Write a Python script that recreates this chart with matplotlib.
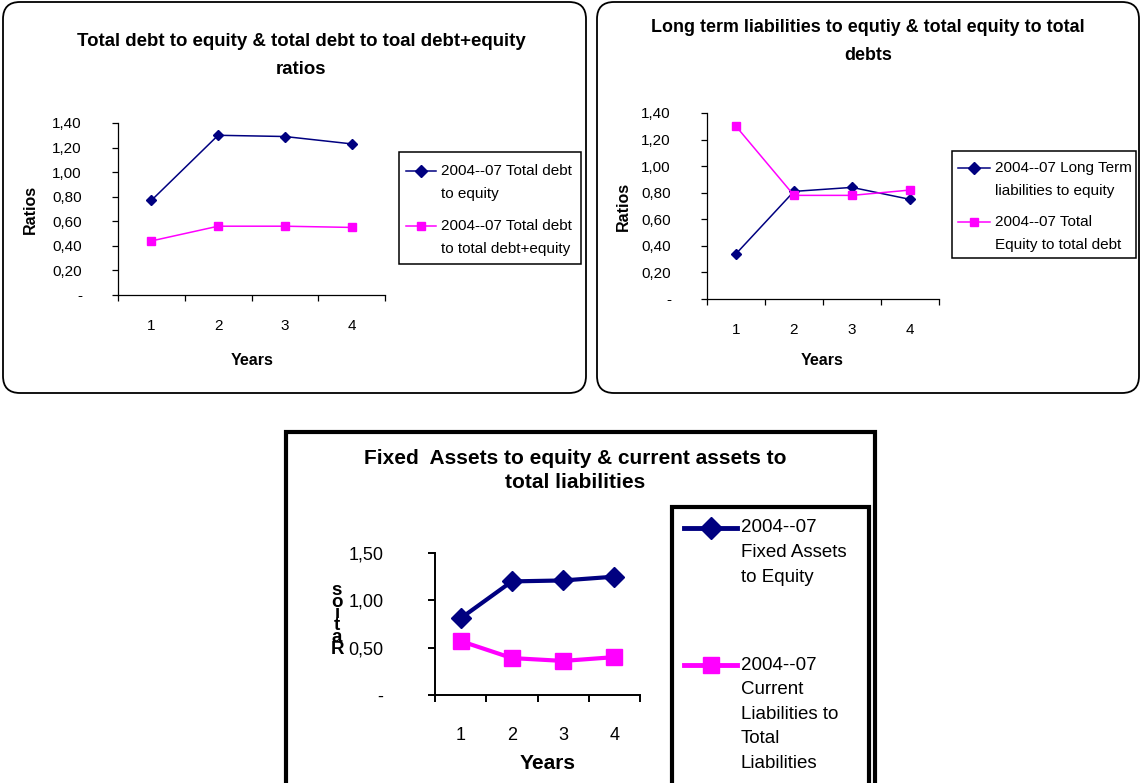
import numpy as np
import matplotlib.pyplot as plt
from matplotlib.patches import FancyBboxPatch, Rectangle
from matplotlib.lines import Line2D

# ratio series, 2004-07
years = [1, 2, 3, 4]
debt_to_equity = [0.77, 1.30, 1.29, 1.23]
debt_to_debt_equity = [0.44, 0.56, 0.56, 0.55]
lt_liab_to_equity = [0.34, 0.81, 0.84, 0.75]
equity_to_debt = [1.30, 0.78, 0.78, 0.82]
fixed_assets_to_equity = [0.81, 1.20, 1.21, 1.25]
curr_liab_to_total = [0.57, 0.39, 0.36, 0.40]

title1 = ["Total debt to equity & total debt to toal debt+equity", "ratios"]
title2 = ["Long term liabilities to equtiy & total equity to total", "debts"]
title3 = ["Fixed  Assets to equity & current assets to", "total liabilities"]
legend1 = [["2004--07 Total debt", "to equity"],
           ["2004--07 Total debt", "to total debt+equity"]]
legend2 = [["2004--07 Long Term", "liabilities to equity"],
           ["2004--07 Total", "Equity to total debt"]]
legend3 = [["2004--07", "Fixed Assets", "to Equity"],
           ["2004--07", "Current", "Liabilities to", "Total", "Liabilities"]]

navy = "#000080"
pink = "#FF00FF"

plt.rcParams['font.family'] = ['Liberation Sans', 'DejaVu Sans']

W, H = 1141, 783
fig = plt.figure(figsize=(W / 100, H / 100), dpi=100)


def fx(x):
    return x / W


def fy(y):
    return 1 - y / H


def px_rect(x0, y0, x1, y1):
    return [fx(x0), fy(y1), (x1 - x0) / W, (y1 - y0) / H]


def ratio_fmt(v, pos):
    if abs(v) < 1e-9:
        return "-"
    return f"{v:.2f}".replace(".", ",")


def style_axes(ax, ymax, ystep, fs, ypad, xpad, lw, ticklen):
    ax.set_facecolor("none")
    for s in ("top", "right"):
        ax.spines[s].set_visible(False)
    for s in ("left", "bottom"):
        ax.spines[s].set_linewidth(lw)
    ax.set_xlim(0.5, 4.5)
    ax.set_ylim(0, ymax)
    ax.set_yticks(np.arange(0, ymax + 1e-6, ystep))
    ax.yaxis.set_major_formatter(plt.FuncFormatter(ratio_fmt))
    ax.set_xticks(np.arange(0.5, 5, 1))
    ax.set_xticklabels([])
    ax.set_xticks(years, minor=True)
    ax.set_xticklabels([str(y) for y in years], minor=True)
    ax.tick_params(axis="y", direction="out", length=ticklen, width=lw,
                   pad=ypad, labelsize=fs)
    ax.tick_params(axis="x", which="major", direction="out", length=ticklen,
                   width=lw)
    ax.tick_params(axis="x", which="minor", length=0, pad=xpad, labelsize=fs)


def draw_legend(box, entries, colors, markers, hx, tx, ys, step, fs, lw, ms,
                box_lw):
    x0, y0, x1, y1 = box
    fig.add_artist(Rectangle((fx(x0), fy(y1)), (x1 - x0) / W, (y1 - y0) / H,
                             transform=fig.transFigure, fill=False,
                             ec="black", lw=box_lw, clip_on=False))
    for lines, c, m, y in zip(entries, colors, markers, ys):
        hm = (hx[0] + hx[1]) / 2
        fig.add_artist(Line2D([fx(hx[0]), fx(hm), fx(hx[1])],
                              [fy(y)] * 3, transform=fig.transFigure,
                              color=c, lw=lw, marker=m, markersize=ms,
                              markevery=[1]))
        for i, t in enumerate(lines):
            fig.text(fx(tx), fy(y + i * step), t, fontsize=fs,
                     ha="left", va="center")


# outer frames
for (x0, y0, x1, y1) in [(3, 2, 586, 393), (597, 2, 1139, 393)]:
    fig.add_artist(FancyBboxPatch((x0 / 100, (H - y1) / 100),
                                  (x1 - x0) / 100, (y1 - y0) / 100,
                                  boxstyle="round,pad=0,rounding_size=0.17",
                                  transform=fig.dpi_scale_trans, fill=False,
                                  ec="black", lw=1.3))
fig.add_artist(Rectangle((fx(286), fy(800)), (875 - 286) / W, (800 - 432) / H,
                         transform=fig.transFigure, fill=False, ec="black",
                         lw=3, clip_on=False))

# panel 1
ax1 = fig.add_axes(px_rect(118, 123, 385, 295))
style_axes(ax1, 1.4, 0.2, 11, 22, 17, 0.9, 4)
ax1.plot(years, debt_to_equity, color=navy, lw=1.1, marker="D", ms=5.5)
ax1.plot(years, debt_to_debt_equity, color=pink, lw=1.1, marker="s", ms=6)
ax1.set_ylabel("Ratios", fontsize=11.5, fontweight="bold", va="center")
ax1.yaxis.set_label_coords(-0.33, 0.5)
ax1.set_xlabel("Years", fontsize=11.5, fontweight="bold", va="center")
ax1.xaxis.set_label_coords(0.502, -0.378)
fig.text(fx(301), fy(42), title1[0], fontsize=13.4, fontweight="bold",
         ha="center", va="center")
fig.text(fx(301), fy(70), title1[1], fontsize=13.4, fontweight="bold",
         ha="center", va="center")
draw_legend((399, 152, 581, 264), legend1, [navy, pink], ["D", "s"],
            (406, 436), 441, [171, 226], 23, 11, 1.1, 6, 1.1)

# panel 2
ax2 = fig.add_axes(px_rect(707, 113, 939, 299))
style_axes(ax2, 1.4, 0.2, 11, 22, 17, 0.9, 4)
ax2.plot(years, lt_liab_to_equity, color=navy, lw=1.1, marker="D", ms=5.5)
ax2.plot(years, equity_to_debt, color=pink, lw=1.1, marker="s", ms=6)
ax2.set_ylabel("Ratios", fontsize=11.5, fontweight="bold", va="center")
ax2.yaxis.set_label_coords(-0.362, 0.5)
ax2.set_xlabel("Years", fontsize=11.5, fontweight="bold", va="center")
ax2.xaxis.set_label_coords(0.496, -0.333)
fig.text(fx(868), fy(28), title2[0], fontsize=12.9, fontweight="bold",
         ha="center", va="center")
fig.text(fx(868), fy(56), title2[1], fontsize=12.9, fontweight="bold",
         ha="center", va="center")
draw_legend((952, 151, 1136, 258), legend2, [navy, pink], ["D", "s"],
            (958, 990), 995, [168, 222], 22.5, 11, 1.1, 6, 1.1)

# panel 3
ax3 = fig.add_axes(px_rect(435, 553, 640, 695))
style_axes(ax3, 1.5, 0.5, 13, 32, 23, 1.4, 5)
ax3.plot(years, fixed_assets_to_equity, color=navy, lw=3, marker="D", ms=10)
ax3.plot(years, curr_liab_to_total, color=pink, lw=3, marker="s", ms=11)
ax3.set_ylabel("s\no\ni\nt\na\nR", rotation=0, fontsize=13.5,
               fontweight="bold", linespacing=0.6, va="center", ha="center")
ax3.yaxis.set_label_coords(-0.478, 0.53)
ax3.set_xlabel("Years", fontsize=15, fontweight="bold", va="center")
ax3.xaxis.set_label_coords(0.551, -0.479)
fig.text(fx(575), fy(458), title3[0], fontsize=15, fontweight="bold",
         ha="center", va="center")
fig.text(fx(575), fy(483), title3[1], fontsize=15, fontweight="bold",
         ha="center", va="center")
draw_legend((672, 507, 869, 800), legend3, [navy, pink], ["D", "s"],
            (684, 737), 741, [528, 665], 24.6, 13.5, 3.5, 11, 3)

fig.savefig("out.png", dpi=100)
